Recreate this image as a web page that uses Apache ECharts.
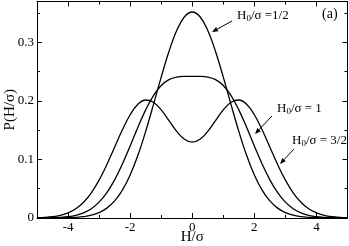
<!DOCTYPE html>
<html><head><meta charset="utf-8">
<script src="https://cdn.jsdelivr.net/npm/echarts@6/dist/echarts.min.js"></script>
<style>html,body{margin:0;padding:0;background:#fff;overflow:hidden}#c{width:349px;height:246px}</style>
</head><body><div id="c"></div>
<script>
const xValues = [-5,-4.75,-4.5,-4.25,-4,-3.75,-3.5,-3.25,-3,-2.75,-2.5,-2.25,-2,-1.75,-1.5,-1.25,-1,-0.75,-0.5,-0.25,0,0.25,0.5,0.75,1,1.25,1.5,1.75,2,2.25,2.5,2.75,3,3.25,3.5,3.75,4,4.25,4.5,4.75,5];
const pHalf = [0.00001,0.00002,0.00007,0.00018,0.00044,0.00104,0.00228,0.00472,0.00920,0.01688,0.02921,0.04769,0.07352,0.10719,0.14798,0.19371,0.24079,0.28466,0.32046,0.34390,0.35207,0.34390,0.32046,0.28466,0.24079,0.19371,0.14798,0.10719,0.07352,0.04769,0.02921,0.01688,0.00920,0.00472,0.00228,0.00104,0.00044,0.00018,0.00007,0.00002,0.00001];
const pOne = [0.00007,0.00018,0.00044,0.00101,0.00222,0.00455,0.00877,0.01589,0.02706,0.04332,0.06520,0.09234,0.12320,0.15512,0.18480,0.20920,0.22647,0.23647,0.24079,0.24189,0.24197,0.24189,0.24079,0.23647,0.22647,0.20920,0.18480,0.15512,0.12320,0.09234,0.06520,0.04332,0.02706,0.01589,0.00877,0.00455,0.00222,0.00101,0.00044,0.00018,0.00007];
const pThreeHalf = [0.00044,0.00101,0.00222,0.00455,0.00876,0.01587,0.02700,0.04314,0.06477,0.09135,0.12105,0.15074,0.17647,0.19435,0.20169,0.19788,0.18480,0.16644,0.14798,0.13446,0.12952,0.13446,0.14798,0.16644,0.18480,0.19788,0.20169,0.19435,0.17647,0.15074,0.12105,0.09135,0.06477,0.04314,0.02700,0.01587,0.00876,0.00455,0.00222,0.00101,0.00044];
const xTickLabels = [-4,-2,0,2,4];
const yTickLabels = [0,0.1,0.2,0.3];
const seriesNames = ['H0/σ =1/2','H0/σ = 1','H0/σ = 3/2'];

const FONT = '"Liberation Serif","DejaVu Serif",serif';
const C = '#000';
const chart = echarts.init(document.getElementById('c'), null, {renderer:'canvas'});

function xAx(pos, major, labels) {
  return {
    type:'value', position:pos, min:-5, max:5, interval:1,
    axisLine:{show:major, onZero:false, lineStyle:{color:C,width:1}},
    axisTick:major ? {show:true, inside:true, length:5, customValues:xTickLabels, lineStyle:{color:C}}
                   : {show:true, inside:true, length:3, lineStyle:{color:C}},
    axisLabel: labels ? {show:true, customValues:xTickLabels, color:C, fontFamily:FONT, fontSize:13, margin:3} : {show:false},
    splitLine:{show:false},
    name: labels ? 'H/σ' : '', nameLocation:'middle', nameGap:12, nameMoveOverlap:false,
    nameTextStyle:{color:C, fontFamily:FONT, fontSize:15, verticalAlign:'top'}
  };
}
function yAx(pos, major, labels) {
  return {
    type:'value', position:pos, min:0, max:0.37, interval:0.05,
    axisLine:{show:major, onZero:false, lineStyle:{color:C,width:1}},
    axisTick:major ? {show:true, inside:true, length:5, customValues:yTickLabels, lineStyle:{color:C}}
                   : {show:true, inside:true, length:3, lineStyle:{color:C}},
    axisLabel: labels ? {show:true, customValues:yTickLabels, color:C, fontFamily:FONT, fontSize:13, margin:3,
                         formatter:v=>v===0?'0':String(v)} : {show:false},
    splitLine:{show:false},
    name: labels ? 'P(H/σ)' : '', nameLocation:'middle', nameGap:19, nameMoveOverlap:false,
    nameTextStyle:{color:C, fontFamily:FONT, fontSize:15}
  };
}

const series = [pHalf, pOne, pThreeHalf].map((arr,i)=>({
  name: seriesNames[i], type:'line', xAxisIndex:0, yAxisIndex:0,
  data: xValues.map((x,j)=>[x, arr[j]]),
  smooth:0.4, symbol:'none', lineStyle:{color:C, width:1.3}, silent:true, z:3
}));

const rich = {
  a:{fontFamily:FONT, fontSize:13, color:C},
  s:{fontFamily:FONT, fontSize:9, color:C, padding:[6,0,0,0]}
};
function lbl(x, y, tail) {
  return {type:'text', left:x, top:y, style:{text:'{a|H}{s|0}{a|'+tail+'}', rich:rich}};
}
function arrow(x1,y1,x2,y2) {
  const a = Math.atan2(y2-y1, x2-x1), L=6, W=2.4;
  const bx = x2 - L*Math.cos(a), by = y2 - L*Math.sin(a);
  const px = -Math.sin(a), py = Math.cos(a);
  return [
    {type:'line', shape:{x1:x1,y1:y1,x2:bx,y2:by}, style:{stroke:C, lineWidth:1}},
    {type:'polygon', shape:{points:[[x2,y2],[bx+px*W,by+py*W],[bx-px*W,by-py*W]]}, style:{fill:C}}
  ];
}

chart.setOption({
  animation:false,
  backgroundColor:'#fff',
  grid:{left:37, right:1.5, top:1.5, bottom:28, containLabel:false, outerBoundsMode:'none'},
  xAxis:[xAx('bottom',true,true), xAx('bottom',false,false), xAx('top',true,false), xAx('top',false,false)],
  yAxis:[yAx('left',true,true), yAx('left',false,false), yAx('right',true,false), yAx('right',false,false)],
  series: series,
  graphic:[
    lbl(237, 9, '/σ =1/2'),
    lbl(277, 102, '/σ = 1'),
    lbl(292, 134, '/σ = 3/2'),
    {type:'text', left:322, top:7, style:{text:'(a)', fontFamily:FONT, fontSize:14, fill:C}},
    ...arrow(232,21,212,32),
    ...arrow(272,116,255,134),
    ...arrow(294,149,280,164)
  ]
});
</script></body></html>
